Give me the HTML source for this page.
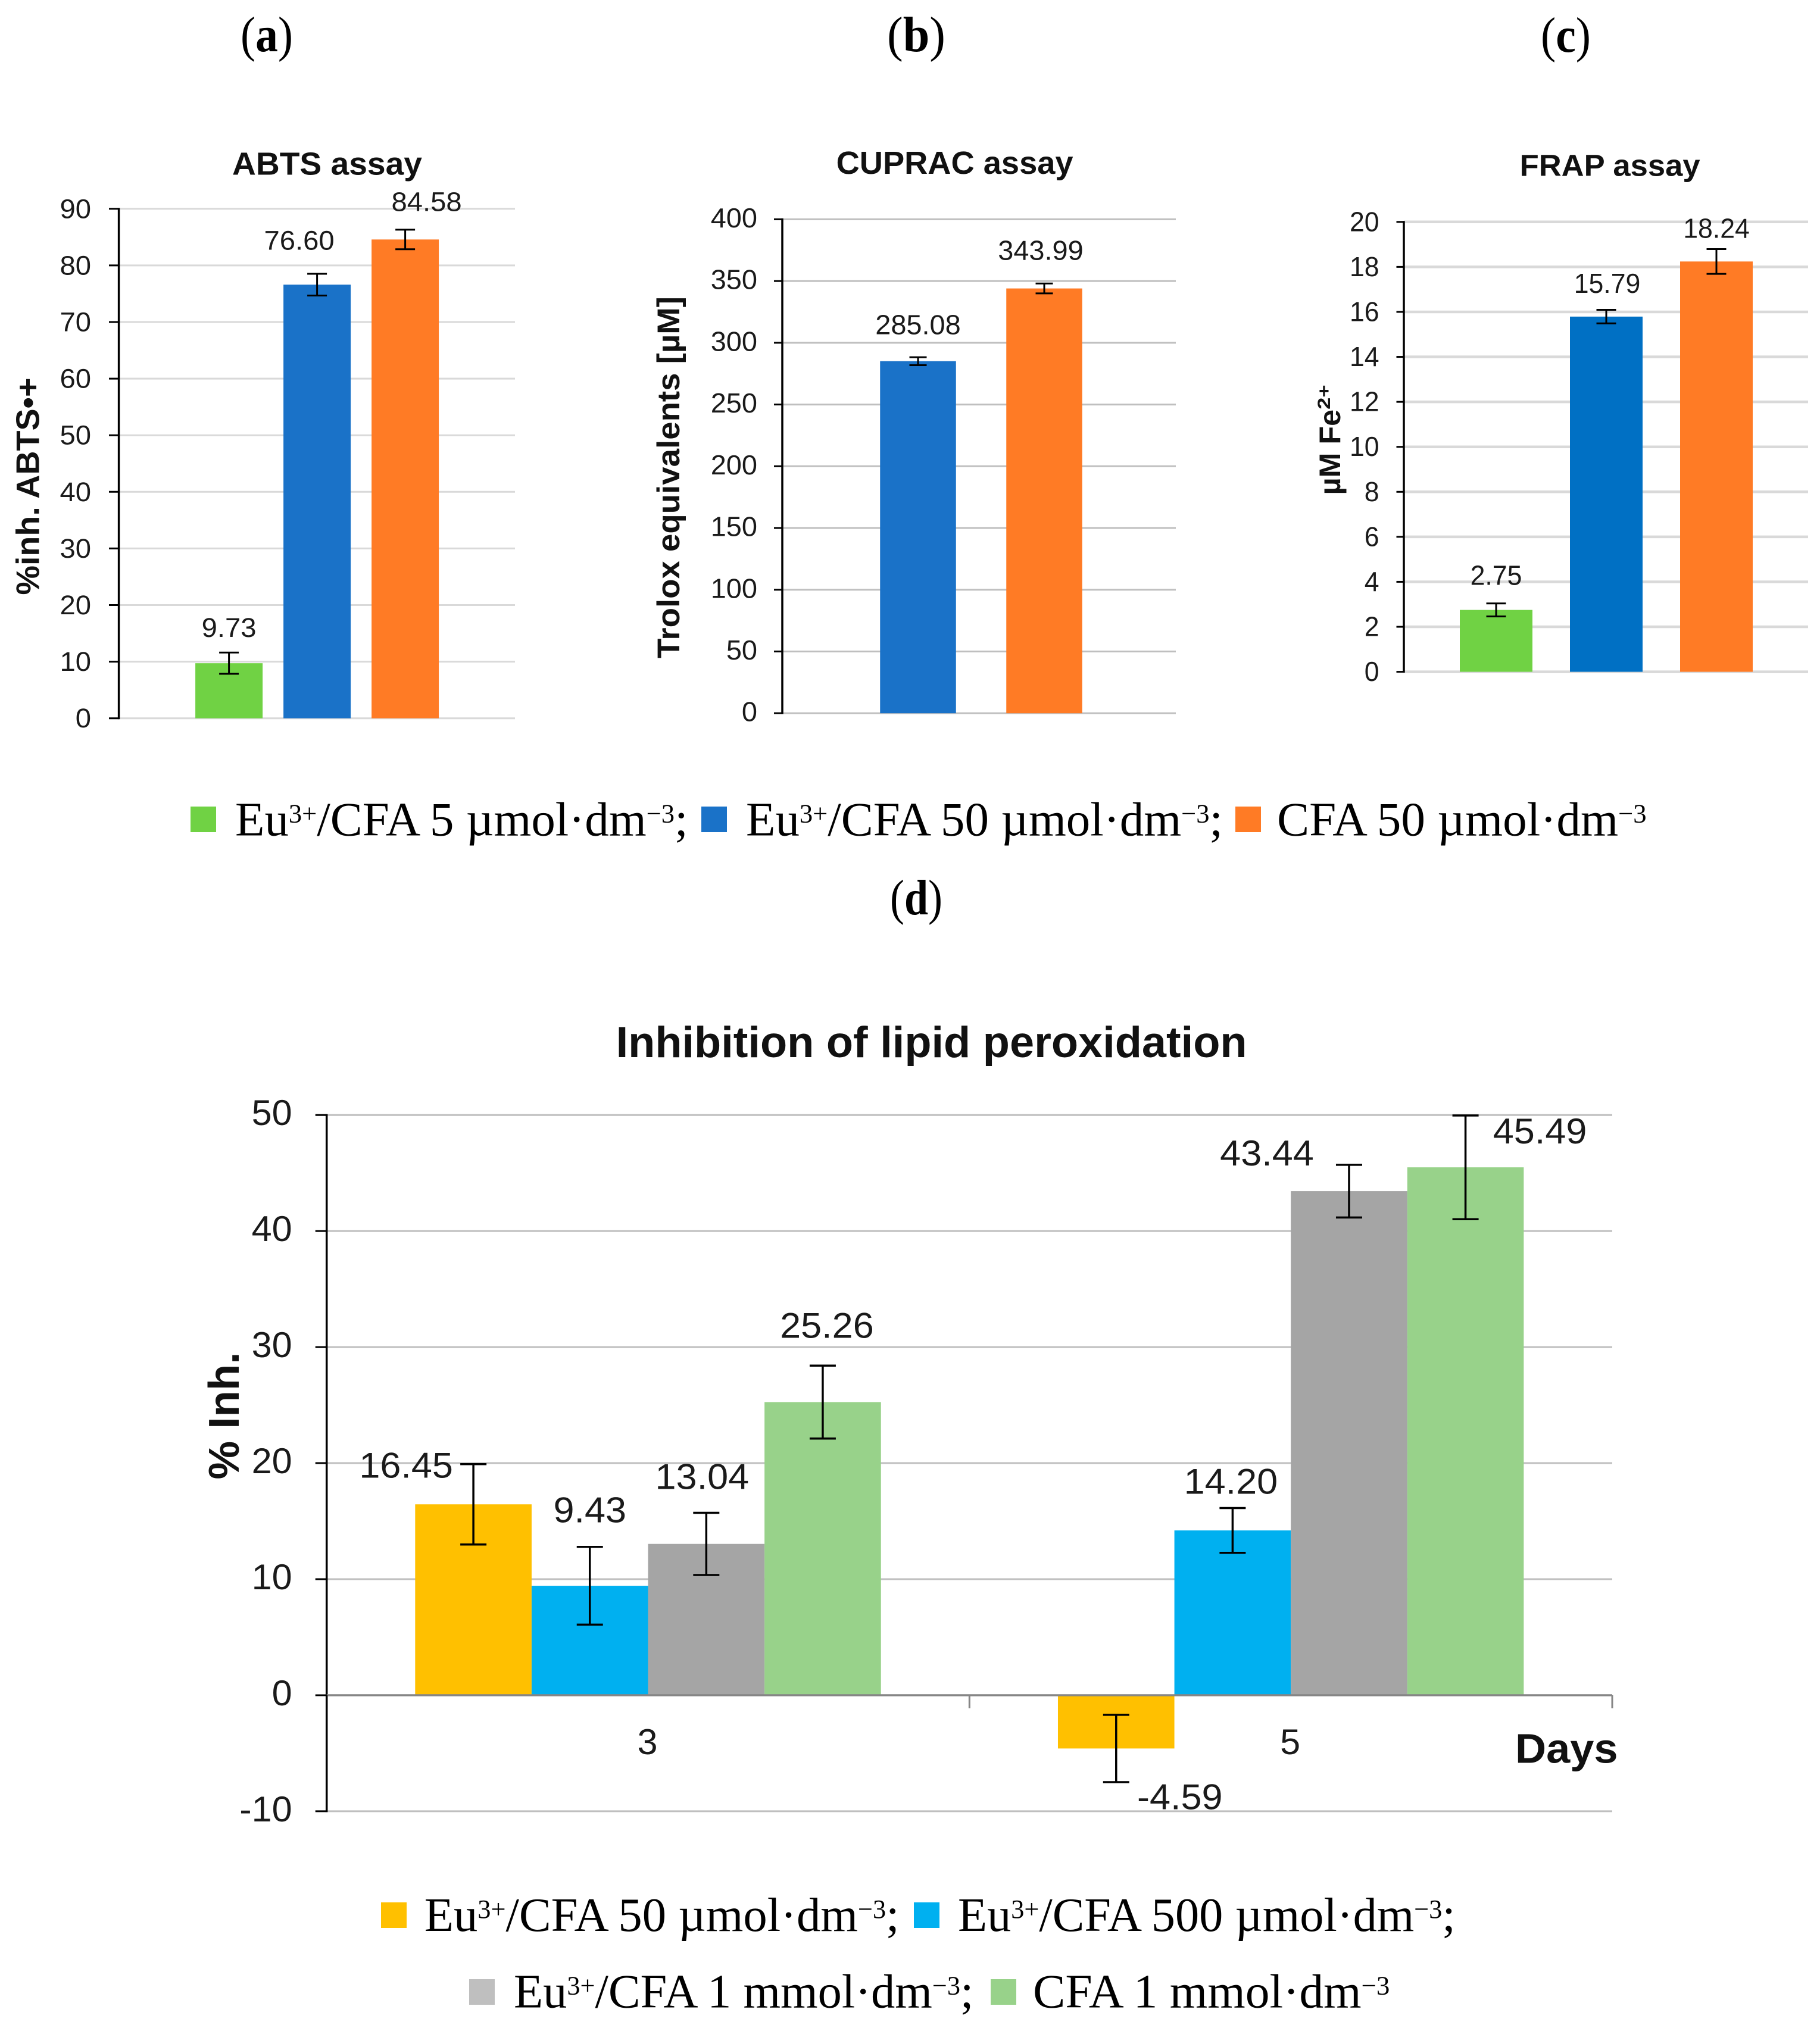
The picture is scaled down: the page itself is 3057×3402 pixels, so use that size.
<!DOCTYPE html>
<html lang="en">
<head>
<meta charset="utf-8">
<title>Antioxidant assays chart</title>
<style>
html,body{margin:0;padding:0;background:#fff;}
svg{display:block;}
.sans{font-family:"Liberation Sans",sans-serif;}
.serif{font-family:"Liberation Serif",serif;fill:#000;}
</style>
</head>
<body>
<svg id="figure" xmlns="http://www.w3.org/2000/svg" width="3057" height="3402" viewBox="0 0 3057 3402">
<rect x="0" y="0" width="3057" height="3402" fill="#fff"/>

<text class="serif" x="404" y="86" font-size="84" textLength="88" lengthAdjust="spacingAndGlyphs">(<tspan font-weight="bold">a</tspan>)</text>
<text class="serif" x="1490" y="86" font-size="84" textLength="98" lengthAdjust="spacingAndGlyphs">(<tspan font-weight="bold">b</tspan>)</text>
<text class="serif" x="2588" y="87" font-size="84" textLength="84" lengthAdjust="spacingAndGlyphs">(<tspan font-weight="bold">c</tspan>)</text>
<text class="serif" x="1495" y="1536" font-size="84" textLength="88" lengthAdjust="spacingAndGlyphs">(<tspan font-weight="bold">d</tspan>)</text>

<g id="legend-top">
<rect x="320" y="1355" width="43" height="43" fill="#70d244"/>
<text class="serif" font-size="80" transform="translate(395,1403.3) scale(1.012,1)">Eu<tspan font-size="44" dy="-22">3+</tspan><tspan dy="22">/CFA 5 µmol·dm</tspan><tspan font-size="44" dy="-22">−3</tspan><tspan dy="22">;</tspan></text>
<rect x="1178" y="1355" width="43" height="43" fill="#1a72c8"/>
<text class="serif" font-size="80" transform="translate(1253,1403.3) scale(1.012,1)">Eu<tspan font-size="44" dy="-22">3+</tspan><tspan dy="22">/CFA 50 µmol·dm</tspan><tspan font-size="44" dy="-22">−3</tspan><tspan dy="22">;</tspan></text>
<rect x="2075" y="1355" width="43" height="43" fill="#ff7b25"/>
<text class="serif" font-size="80" transform="translate(2145,1403.3) scale(1.015,1)">CFA 50 µmol·dm<tspan font-size="44" dy="-22">−3</tspan></text>
</g>

<g id="legend-bottom">
<rect x="640" y="3196" width="43" height="43" fill="#ffc000"/>
<text class="serif" font-size="80" transform="translate(712.7,3244) scale(1.008,1)">Eu<tspan font-size="44" dy="-22">3+</tspan><tspan dy="22">/CFA 50 µmol·dm</tspan><tspan font-size="44" dy="-22">−3</tspan><tspan dy="22">;</tspan></text>
<rect x="1535" y="3196" width="43" height="43" fill="#00b0f0"/>
<text class="serif" font-size="80" transform="translate(1609,3244) scale(1.005,1)">Eu<tspan font-size="44" dy="-22">3+</tspan><tspan dy="22">/CFA 500 µmol·dm</tspan><tspan font-size="44" dy="-22">−3</tspan><tspan dy="22">;</tspan></text>
<rect x="788" y="3325" width="43" height="43" fill="#bfbfbf"/>
<text class="serif" font-size="80" transform="translate(863,3372.7) scale(1.006,1)">Eu<tspan font-size="44" dy="-22">3+</tspan><tspan dy="22">/CFA 1 mmol·dm</tspan><tspan font-size="44" dy="-22">−3</tspan><tspan dy="22">;</tspan></text>
<rect x="1664" y="3325" width="43" height="43" fill="#98d28a"/>
<text class="serif" font-size="80" transform="translate(1735,3372.7) scale(1.02,1)">CFA 1 mmol·dm<tspan font-size="44" dy="-22">−3</tspan></text>
</g>

<text class="sans" x="390" y="293.3" font-size="54" font-weight="bold" fill="#111" textLength="319" lengthAdjust="spacingAndGlyphs">ABTS assay</text>
<text class="sans" x="1404.6" y="291.9" font-size="54" font-weight="bold" fill="#111" textLength="398" lengthAdjust="spacingAndGlyphs">CUPRAC assay</text>
<text class="sans" x="2552.6" y="295.7" font-size="51" font-weight="bold" fill="#111" textLength="303" lengthAdjust="spacingAndGlyphs">FRAP assay</text>
<text class="sans" x="1034.6" y="1776" font-size="73" font-weight="bold" fill="#111" textLength="1060" lengthAdjust="spacingAndGlyphs">Inhibition of lipid peroxidation</text>

<text class="sans" transform="translate(65.7,817) rotate(-90)" text-anchor="middle" font-size="55" font-weight="bold" fill="#111" textLength="365" lengthAdjust="spacingAndGlyphs">%inh. ABTS•+</text>
<text class="sans" transform="translate(1141,802) rotate(-90)" text-anchor="middle" font-size="53" font-weight="bold" fill="#111" textLength="608" lengthAdjust="spacingAndGlyphs">Trolox equivalents [µM]</text>
<text class="sans" transform="translate(2251,831.4) rotate(-90)" font-size="50" font-weight="bold" fill="#111" textLength="143.5" lengthAdjust="spacingAndGlyphs">µM Fe</text>
<text class="sans" transform="translate(2234,687.9) rotate(-90)" font-size="30" font-weight="bold" fill="#111" textLength="41.5" lengthAdjust="spacingAndGlyphs">2+</text>
<text class="sans" transform="translate(401,2378.5) rotate(-90)" text-anchor="middle" font-size="72" font-weight="bold" fill="#111" textLength="214" lengthAdjust="spacingAndGlyphs">% Inh.</text>
<text class="sans" x="2545" y="2961.6" font-size="70" font-weight="bold" fill="#111" textLength="172.5" lengthAdjust="spacingAndGlyphs">Days</text>

<g id="charts"></g>
</svg>

<script>
// ABTS data
const abtsSeries = ['Eu3+/CFA 5', 'Eu3+/CFA 50', 'CFA 50'];
const abtsValues = [9.73, 76.60, 84.58];
const abtsErrors = [1.88, 1.92, 1.73];
const abtsTicks = [0, 10, 20, 30, 40, 50, 60, 70, 80, 90];

// CUPRAC data
const cupracSeries = ['Eu3+/CFA 50', 'CFA 50'];
const cupracValues = [285.08, 343.99];
const cupracErrors = [3.2, 4.0];
const cupracTicks = [0, 50, 100, 150, 200, 250, 300, 350, 400];

// FRAP data
const frapSeries = ['Eu3+/CFA 5', 'Eu3+/CFA 50', 'CFA 50'];
const frapValues = [2.75, 15.79, 18.24];
const frapErrors = [0.29, 0.30, 0.55];
const frapTicks = [0, 2, 4, 6, 8, 10, 12, 14, 16, 18, 20];

// Lipid peroxidation data
const lipidDays = ['3', '5'];
const lipidSeriesNames = ['Eu3+/CFA 50', 'Eu3+/CFA 500', 'Eu3+/CFA 1 mM', 'CFA 1 mM'];
const lipidEu50 = [16.45, -4.59];
const lipidEu500 = [9.43, 14.20];
const lipidEu1m = [13.04, 43.44];
const lipidCfa1m = [25.26, 45.49];
const lipidEu50Err = [3.46, 2.9];
const lipidEu500Err = [3.35, 1.93];
const lipidEu1mErr = [2.68, 2.27];
const lipidCfa1mErr = [3.14, 4.47];
const lipidTicks = [-10, 0, 10, 20, 30, 40, 50];

const NS = 'http://www.w3.org/2000/svg';
const root = document.getElementById('charts');

function shape(tag, attrs) {
  const el = document.createElementNS(NS, tag);
  for (const k in attrs) el.setAttribute(k, attrs[k]);
  root.appendChild(el);
  return el;
}
function label(str, x, y, size, sx, anchor, fill) {
  const el = shape('text', {
    transform: 'translate(' + x + ',' + y + ') scale(' + sx + ',1)',
    'text-anchor': anchor, 'font-size': size, fill: fill, class: 'sans'
  });
  el.textContent = str;
  return el;
}
function linearScale(ticks, y0px, y1px) {
  const lo = ticks[0], hi = ticks[ticks.length - 1];
  return v => y0px + (v - lo) * (y1px - y0px) / (hi - lo);
}
function drawGrid(prefix, ticks, y, layout) {
  ticks.forEach(t => {
    const g = shape('line', {x1: layout.axisX, x2: layout.right, y1: y(t), y2: y(t), stroke: layout.gridColor, 'stroke-width': layout.gridWidth});
    
    
  });
}
function drawAxis(prefix, ticks, y, layout) {
  ticks.forEach(t => {
    const m = shape('line', {x1: layout.tickLeft, x2: layout.axisX, y1: y(t), y2: y(t), stroke: '#000', 'stroke-width': 3});
    
    
    const l = label(String(t), layout.tickRight, y(t) + layout.tickDy, layout.tickSize, layout.tickSx, 'end', '#1a1a1a');
    
    
  });
  const a = shape('line', {x1: layout.axisX, x2: layout.axisX, y1: y(ticks[ticks.length - 1]) - 1.5, y2: y(ticks[0]) + 1.5, stroke: '#000', 'stroke-width': 3.5});
  
  
}
function drawBar(name, cx, width, value, y, color) {
  const top = y(Math.max(value, 0)), bottom = y(Math.min(value, 0));
  const b = shape('rect', {x: cx - width / 2, y: top, width: width, height: bottom - top, fill: color});
  
  
}
function drawError(name, cx, value, err, y, cap, sw) {
  const hi = y(value + err), lo = y(value - err);
  const stem = shape('line', {x1: cx, x2: cx, y1: hi, y2: lo, stroke: '#000', 'stroke-width': sw});
  
  
  const c1 = shape('line', {x1: cx - cap, x2: cx + cap, y1: hi, y2: hi, stroke: '#000', 'stroke-width': sw});
  
  
  const c2 = shape('line', {x1: cx - cap, x2: cx + cap, y1: lo, y2: lo, stroke: '#000', 'stroke-width': sw});
  
  
}

function drawAssay(prefix, series, values, errors, ticks, layout) {
  const y = linearScale(ticks, layout.y0, layout.yTop);
  drawGrid(prefix, ticks, y, layout);
  values.forEach((v, i) => {
    const cx = layout.center + (i - (values.length - 1) / 2) * layout.step;
    drawBar(prefix + '-bar-' + series[i].toLowerCase().replace(/[^a-z0-9]+/g, '-'), cx, layout.barWidth, v, y, layout.colors[i]);
  });
  drawAxis(prefix, ticks, y, layout);
  values.forEach((v, i) => {
    const cx = layout.center + (i - (values.length - 1) / 2) * layout.step;
    drawError(prefix + '-error-bar-' + i, cx, v, errors[i], y, layout.cap, 3);
    const n = layout.nudges[i];
    const l = label(v.toFixed(2), cx + n[0], y(v) + n[1], layout.labelSize, layout.labelSx, 'middle', '#1a1a1a');
    
    
  });
}

drawAssay('abts', abtsSeries, abtsValues, abtsErrors, abtsTicks, {
  y0: 1206.7, yTop: 350.8, axisX: 199.6, right: 865, tickLeft: 183, tickRight: 153, tickDy: 15.5,
  tickSize: 45, tickSx: 1.05, gridColor: '#d9d9d9', gridWidth: 3, center: 532.6, step: 148, barWidth: 113,
  colors: ['#70d244', '#1a72c8', '#ff7b25'], cap: 16.5, labelSize: 45, labelSx: 1.05,
  nudges: [[0, -44.3], [-30, -58.6], [36, -48]]
});
drawAssay('cuprac', cupracSeries, cupracValues, cupracErrors, cupracTicks, {
  y0: 1198.2, yTop: 368.4, axisX: 1314, right: 1975, tickLeft: 1300, tickRight: 1272, tickDy: 13.5,
  tickSize: 46, tickSx: 1.02, gridColor: '#bfbfbf', gridWidth: 3, center: 1648, step: 212, barWidth: 127.5,
  colors: ['#1a72c8', '#ff7b25'], cap: 14.5, labelSize: 46, labelSx: 1.02,
  nudges: [[0, -45.5], [-6, -48.2]]
});
drawAssay('frap', frapSeries, frapValues, frapErrors, frapTicks, {
  y0: 1128.6, yTop: 372.8, axisX: 2358, right: 3037, tickLeft: 2345.5, tickRight: 2316.6, tickDy: 15.5,
  tickSize: 46, tickSx: 0.97, gridColor: '#d9d9d9', gridWidth: 4.5, center: 2698, step: 185, barWidth: 122,
  colors: ['#70d244', '#0070c4', '#ff7b25'], cap: 16.5, labelSize: 46, labelSx: 0.97,
  nudges: [[0, -42], [1.5, -40], [0, -40]]
});

// Lipid peroxidation grouped chart
(function () {
  const layout = {
    axisX: 548.7, right: 2708, tickLeft: 529.7, tickRight: 490.7, tickDy: 17, tickSize: 60, tickSx: 1.02,
    gridColor: '#bfbfbf', gridWidth: 3
  };
  const y = linearScale(lipidTicks, 3042.9, 1873.2);
  const seriesValues = [lipidEu50, lipidEu500, lipidEu1m, lipidCfa1m];
  const seriesErrors = [lipidEu50Err, lipidEu500Err, lipidEu1mErr, lipidCfa1mErr];
  const colors = ['#ffc000', '#00b0f0', '#a5a5a5', '#98d28a'];
  const barWidth = 195.6;
  const band = (layout.right - layout.axisX) / lipidDays.length;
  const catCenter = i => layout.axisX + band * (i + 0.5);
  const barCenter = (c, s) => catCenter(c) + (s - 1.5) * barWidth;
  // label offsets from the end of each bar: [day][series] -> [dx, dy]
  const nudges = [
    [[-113, -45], [0, -106.6], [-7, -92.3], [7, -108]],
    [[107, 102], [-3, -61.7], [-138, -43], [125, -40]]
  ];

  drawGrid('lipid', lipidTicks.filter(t => t !== 0), y, layout);
  lipidDays.forEach((d, c) => {
    seriesValues.forEach((vals, s) => {
      drawBar('lipid-bar-day' + d + '-' + lipidSeriesNames[s].toLowerCase().replace(/[^a-z0-9]+/g, '-'), barCenter(c, s), barWidth, vals[c], y, colors[s]);
    });
  });
  drawAxis('lipid', lipidTicks, y, layout);
  const zero = shape('line', {x1: layout.axisX, x2: layout.right, y1: y(0), y2: y(0), stroke: '#868686', 'stroke-width': 3.5});
  
  
  for (let i = 0; i <= lipidDays.length; i++) {
    const tx = layout.axisX + band * i;
    const t = shape('line', {x1: tx, x2: tx, y1: y(0), y2: y(0) + 22, stroke: i === 0 ? '#000' : '#868686', 'stroke-width': 3});
    
    
  }
  lipidDays.forEach((d, c) => {
    const l = label(d, catCenter(c) - 1, 2947, 60, 1.02, 'middle', '#1a1a1a');
    
    
    seriesValues.forEach((vals, s) => {
      const cx = barCenter(c, s);
      const v = vals[c];
      drawError('lipid-error-bar-day' + d + '-' + s, cx, v, seriesErrors[s][c], y, 22, 3.5);
      const n = nudges[c][s];
      const vl = label(v.toFixed(2), cx + n[0], y(v) + n[1], 60, 1.05, 'middle', '#1a1a1a');
      
      
    });
  });
})();
</script>
</body>
</html>
